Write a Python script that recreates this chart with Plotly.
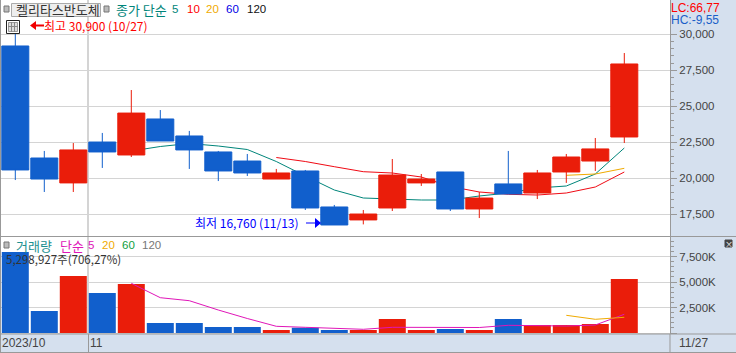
import plotly.graph_objects as go

W, H = 736, 353

dates = ["10/27", "10/30", "10/31", "11/01", "11/02", "11/03", "11/06", "11/07", "11/08", "11/09", "11/10",
         "11/13", "11/14", "11/15", "11/16", "11/17", "11/20", "11/21", "11/22", "11/23", "11/24", "11/27"]
opens = [29190, 21410, 19680, 22520, 21620, 24120, 22940, 21830, 21200, 19950, 20510,
         18010, 17110, 17940, 19680, 20440, 17870, 19610, 18980, 20440, 21200, 22870]
highs = [30900, 21900, 22450, 23150, 26130, 24740, 23290, 21900, 21690, 20650, 20580,
         18150, 17800, 21340, 20300, 20440, 19050, 21900, 20580, 21690, 22800, 28700]
lows = [19880, 19050, 19050, 20720, 21480, 22590, 20650, 19810, 20160, 19950, 17800,
        16760, 16800, 17730, 19470, 17730, 17240, 18910, 18560, 19680, 20510, 22450]
closes = [20580, 19950, 21970, 21830, 24530, 22590, 21970, 20510, 20370, 20370, 17940,
          16760, 17520, 20230, 19950, 17870, 18630, 18910, 20370, 21480, 22040, 27940]
ma5 = [None, None, None, None, 21896, 22209, 22417, 22243, 22000, 21167, 20160,
       19188, 18632, 18563, 18493, 18493, 18771, 18979, 19327, 19466, 20299, 22104]
ma10 = [None] * 9 + [21445, 21167, 20806, 20459, 20368, 20090, 19431, 19050, 18889, 18840, 18979, 19396, 20438]
ma20 = [None] * 19 + [20209, 20299, 20695]
volumes = [7941, 2157, 5588, 3922, 4804, 980, 980, 588, 588, 294, 520,
           294, 294, 1373, 294, 392, 294, 1373, 784, 784, 882, 5299]
vol_ma5 = [None, None, None, None, 4873, 3461, 3167, 2255, 1422, 657, 559,
           461, 363, 559, 539, 539, 539, 755, 686, 686, 784, 1833]
vol_ma20 = [None] * 19 + [1735, 1343, 1539]
price_ticks = [17500, 20000, 22500, 25000, 27500, 30000]
volume_ticks = [0, 2500, 5000, 7500]

RED, BLUE = "#EA1D0A", "#115FCC"
TEAL, LINE_RED, ORANGE = "#00857A", "#F00A14", "#F0AA00"
MAGENTA = "#E016B8"
GRID, EDGE, PANE = "#D4D4D4", "#999999", "#D5E0EE"
NUM = "Liberation Sans, sans-serif"
KR = "Noto Sans CJK KR, sans-serif"

xs = list(range(len(dates)))
vol_colors = [RED if c > o else BLUE for o, c in zip(opens, closes)]

fig = go.Figure()
for name, vals, col in [("MA5", ma5, TEAL), ("MA10", ma10, LINE_RED), ("MA20", ma20, ORANGE)]:
    fig.add_trace(go.Scatter(x=xs, y=vals, mode="lines", name=name, xaxis="x", yaxis="y",
                             line=dict(color=col, width=1)))
fig.add_trace(go.Candlestick(x=xs, open=opens, high=highs, low=lows, close=closes, xaxis="x", yaxis="y3",
                             whiskerwidth=0, name="가격",
                             increasing=dict(line=dict(color=RED, width=1), fillcolor=RED),
                             decreasing=dict(line=dict(color=BLUE, width=1), fillcolor=BLUE)))
fig.add_trace(go.Bar(x=xs, y=volumes, marker=dict(color=vol_colors, line=dict(width=0)), xaxis="x2", yaxis="y2", name="거래량"))
for name, vals, col in [("V5", vol_ma5, MAGENTA), ("V20", vol_ma20, ORANGE)]:
    fig.add_trace(go.Scatter(x=xs, y=vals, mode="lines", name=name, xaxis="x2", yaxis="y2",
                             line=dict(color=col, width=1)))

xr = [(0 - 15.3) / 29, (670 - 15.3) / 29]
price_range = [15994, 32382]
x_common = dict(range=xr, showticklabels=False, tickmode="array", tickvals=[2.5], ticks="",
                showgrid=True, gridcolor=GRID, gridwidth=1.5, zeroline=False, showline=False)
y_common = dict(side="right", showline=True, linecolor=EDGE, linewidth=1, ticks="outside", ticklen=6,
                tickcolor=EDGE, tickwidth=1, gridcolor=GRID, gridwidth=1, zeroline=False,
                tickfont=dict(family=NUM, size=11.5, color="#444444"), tickformat=",")


def tx(text, px, py, color="#333333", size=13, family=KR, anchor="left"):
    fig.add_annotation(text=text, x=px / W, y=1 - py / H, xref="paper", yref="paper", xanchor=anchor,
                       yanchor="middle", showarrow=False, font=dict(color=color, size=size, family=family),
                       borderpad=0, borderwidth=0)


def px_shape(kind, x0, y0, x1, y1, line=None, fill=None, lw=1):
    fig.add_shape(type=kind, xref="paper", yref="paper", x0=x0 / W, x1=x1 / W, y0=1 - y0 / H, y1=1 - y1 / H,
                  line=dict(color=line, width=lw if line else 0), fillcolor=fill, layer="above")


def arrow(points, color):
    path = "M " + " L ".join(f"{x / W},{1 - y / H}" for x, y in points) + " Z"
    fig.add_shape(type="path", xref="paper", yref="paper", path=path, fillcolor=color,
                  line=dict(color=color, width=0), layer="above")


# frame lines
px_shape("line", 0.5, 0, 0.5, 352, line=EDGE)
px_shape("line", 0, 236.5, 736, 236.5, line=EDGE)
px_shape("line", 0, 334, 736, 334, line=EDGE)
px_shape("line", 0, 352.5, 736, 352.5, line=EDGE)
px_shape("line", 88.5, 334, 88.5, 352, line=EDGE)
px_shape("line", 670, 334, 670, 352, line=EDGE)

# legend row
px_shape("rect", 4, 6, 9, 12, line="#777777", fill="#BBBBBB")
px_shape("rect", 11.5, 3.5, 100.5, 16.5, line="#AAAAAA", fill="#EEEEEE")
tx("켈리타스반도체", 16, 9.5, color="#333333")
px_shape("rect", 104, 6, 109, 12, line="#777777", fill="#BBBBBB")
tx("종가 단순", 116, 9.5, color=TEAL)
tx("5", 172, 9.5, color=TEAL, family=NUM, size=11.5)
tx("10", 187, 9.5, color="#FF0000", family=NUM, size=11.5)
tx("20", 206, 9.5, color=ORANGE, family=NUM, size=11.5)
tx("60", 226, 9.5, color="#0000E6", family=NUM, size=11.5)
tx("120", 247, 9.5, color="#111111", family=NUM, size=11.5)

# table icon + high marker
px_shape("rect", 6.5, 20.5, 19.5, 33.5, line="#222222", fill="#FFFFFF")
px_shape("rect", 8.5, 22.5, 17.5, 31.5, line="#999999", fill="#DDDDDD")
px_shape("line", 11.5, 22, 11.5, 32, line="#888888")
px_shape("line", 14.5, 22, 14.5, 32, line="#888888")
px_shape("line", 8, 26.5, 18, 26.5, line="#888888")
arrow([(30, 25.5), (36, 21), (36, 24.5), (44, 24.5), (44, 26.5), (36, 26.5), (36, 30)], "#F00000")
tx("최고 30,900 (10/27)", 44, 25, color="#FF0000", size=12)

# low marker
tx("최저 16,760 (11/13)", 195, 222, color="#0000FF", size=12)
arrow([(321, 223), (315, 218), (315, 222.5), (306, 222.5), (306, 223.5), (315, 223.5), (315, 228)], "#0000FF")

# volume legend
px_shape("rect", 4, 242, 9, 248, line="#777777", fill="#BBBBBB")
tx("거래량", 16, 245, color="#209090")
tx("단순", 60, 245, color=MAGENTA)
tx("5", 88, 245, color=MAGENTA, family=NUM, size=11.5)
tx("20", 102, 245, color=ORANGE, family=NUM, size=11.5)
tx("60", 122, 245, color="#10A040", family=NUM, size=11.5)
tx("120", 142, 245, color="#777777", family=NUM, size=11.5)
tx("5,298,927주(706,27%)", 6, 259, color="#333333", size=11.5)

# right pane labels
tx("LC:66,77", 671, 8, color="#FF0000", family=NUM, size=12)
tx("HC:-9,55", 671, 20, color="#1A5FC8", family=NUM, size=12)
px_shape("rect", 725, 240, 732, 247, line="#444444", fill="#444444")
tx("×", 728.5, 243.5, color="#FFFFFF", size=8, anchor="center")

# time strip
tx("2023/10", 2, 343, color="#444444", family=NUM, size=12)
tx("11", 90, 343, color="#444444", family=NUM, size=12)
tx("11/27", 679, 343, color="#444444", family=NUM, size=12)

fig.update_layout(
    width=W, height=H, margin=dict(l=0, r=0, t=0, b=0), autosize=False, showlegend=False,
    paper_bgcolor=PANE, plot_bgcolor="#FFFFFF", bargap=2 / 29, boxgap=2 / 29, boxgroupgap=0,
    xaxis=dict(domain=[0, 670 / W], anchor="y", rangeslider=dict(visible=False), **x_common),
    xaxis2=dict(domain=[0, 670 / W], anchor="y2", **x_common),
    yaxis=dict(domain=[1 - 236 / H, 1], anchor="x", range=price_range, tickmode="array", tickvals=price_ticks,
               minor=dict(tickmode="array", tickvals=[v for v in range(17500, 30001, 500)], ticks="outside",
                          ticklen=3, tickcolor=EDGE, showgrid=False), **y_common),
    yaxis3=dict(domain=[1 - 236 / H, 1], anchor="x", overlaying="y", side="right", range=price_range,
                showgrid=False, showticklabels=False, ticks="", zeroline=False, showline=False),
    yaxis2=dict(domain=[19 / H, 116 / H], anchor="x2", range=[-98, 9412], tickmode="array", tickvals=volume_ticks,
                ticktext=["", "2,500K", "5,000K", "7,500K"],
                minor=dict(tickmode="array", tickvals=[v for v in range(500, 9001, 500)], ticks="outside",
                           ticklen=3, tickcolor=EDGE, showgrid=False), **y_common),
)

fig.write_html("out.html", config=dict(displayModeBar=False),
               post_script="document.body.style.margin='0';document.body.style.overflow='hidden';")
